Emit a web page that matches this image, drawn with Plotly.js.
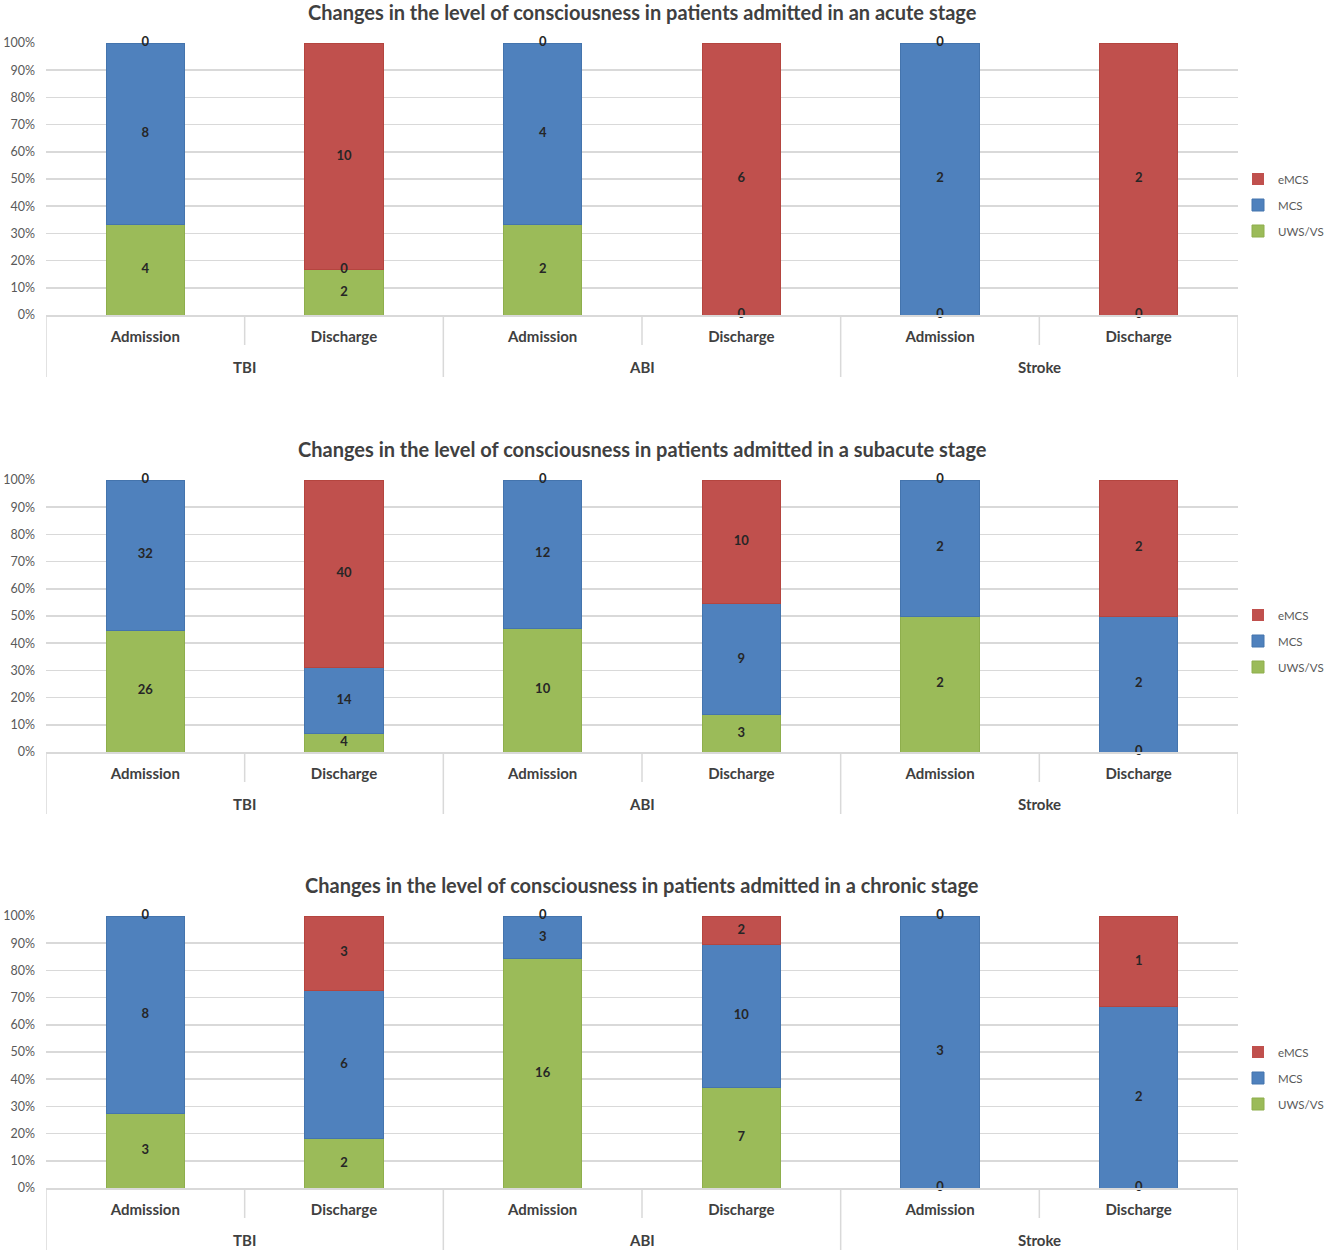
<!DOCTYPE html>
<html>
<head>
<meta charset="utf-8">
<script src="https://cdn.plot.ly/plotly-3.0.1.min.js"></script>
<style>
  html, body { margin: 0; padding: 0; background: #fff; }
  #chart { width: 1325px; height: 1254px; }
</style>
</head>
<body>
<div id="chart"></div>
<script>
const groupNames = ['TBI', 'ABI', 'Stroke']
const moments = ['Admission', 'Discharge', 'Admission', 'Discharge', 'Admission', 'Discharge']
const seriesNames = ['UWS/VS', 'MCS', 'eMCS']
const colors = ['#9BBB59', '#4F81BD', '#C0504D']
const edgeColors = ['#8eae4c', '#4474ad', '#b4453f']

const stageTitles = [
    'Changes in the level of consciousness in patients admitted in an acute stage',
    'Changes in the level of consciousness in patients admitted in a subacute stage',
    'Changes in the level of consciousness in patients admitted in a chronic stage',
]

// counts per bar, order: TBI adm, TBI dis, ABI adm, ABI dis, Stroke adm, Stroke dis
const acuteUWS = [4, 2, 2, 0, 0, 0]
const acuteMCS = [8, 0, 4, 0, 2, 0]
const acuteEMCS = [0, 10, 0, 6, 0, 2]

const subacuteUWS = [26, 4, 10, 3, 2, 0]
const subacuteMCS = [32, 14, 12, 9, 2, 2]
const subacuteEMCS = [0, 40, 0, 10, 0, 2]

const chronicUWS = [3, 2, 16, 7, 0, 0]
const chronicMCS = [8, 6, 3, 10, 3, 2]
const chronicEMCS = [0, 3, 0, 2, 0, 1]

const stages = [
    [acuteUWS, acuteMCS, acuteEMCS],
    [subacuteUWS, subacuteMCS, subacuteEMCS],
    [chronicUWS, chronicMCS, chronicEMCS],
]

const font = 'Lato, "Open Sans", sans-serif'
const H = 1254
// plot areas in pixels (top, bottom)
const areas = [[43, 315], [480, 752], [916, 1188]]
const legendMid = [205, 641, 1078]
const py = p => 1 - p / H

const xs = moments.map((m, i) => i)
let data = []
let layout = {
    width: 1325,
    height: H,
    margin: { l: 46, r: 85, t: 0, b: 0 },
    paper_bgcolor: '#fff',
    plot_bgcolor: '#fff',
    barmode: 'stack',
    barnorm: 'percent',
    showlegend: true,
    font: { family: font, color: '#595959', size: 12 },
    annotations: [],
    shapes: [],
}

const labelFont = { family: font, size: 13, color: '#262626', weight: 'bold' }

stages.forEach((series, s) => {
    const n = s + 1
    const xa = n === 1 ? 'x' : 'x' + n
    const ya = n === 1 ? 'y' : 'y' + n
    const lg = n === 1 ? 'legend' : 'legend' + n

    series.forEach((vals, k) => {
        data.push({
            type: 'bar',
            name: seriesNames[k],
            x: xs,
            y: vals,
            width: 0.395,
            xaxis: xa,
            yaxis: ya,
            legend: lg,
            legendgroup: 's' + n + k,
            legendrank: seriesNames.length - k,
            marker: {
                color: colors[k],
                line: { color: edgeColors[k], width: vals.map(v => v === 0 ? 0 : 1) },
            },
            hoverinfo: 'skip',
        })
    })

    // value labels: middle of each segment, zeros where the empty segment sits
    let lx = [], ly = [], lt = []
    xs.forEach(i => {
        const total = series.reduce((a, v) => a + v[i], 0)
        let cum = 0
        let placed = {}
        series.forEach(vals => {
            const v = vals[i]
            const y = (cum + v / 2) / total * 100
            const key = y.toFixed(2)
            if (v !== 0 || !placed[key]) {
                lx.push(i); ly.push(y); lt.push(String(v))
                placed[key] = true
            }
            cum += v
        })
    })
    data.push({
        type: 'scatter',
        mode: 'text',
        x: lx,
        y: ly,
        text: lt,
        textposition: 'middle center',
        textfont: labelFont,
        xaxis: xa,
        yaxis: ya,
        showlegend: false,
        cliponaxis: false,
        hoverinfo: 'skip',
    })

    const [top, bottom] = areas[s]
    layout['xaxis' + (n === 1 ? '' : n)] = {
        anchor: ya,
        domain: [0, 1],
        range: [-0.5, moments.length - 0.5],
        tickmode: 'array',
        tickvals: xs,
        ticktext: moments,
        showgrid: false,
        zeroline: false,
        showline: true,
        linecolor: '#d9d9d9',
        linewidth: 1.5,
        ticks: '',
        ticklabelstandoff: 7,
        tickfont: { family: font, size: 15, color: '#404040', weight: 'bold' },
        fixedrange: true,
    }
    layout['yaxis' + (n === 1 ? '' : n)] = {
        anchor: xa,
        domain: [py(bottom), py(top)],
        range: [0, 100],
        dtick: 10,
        ticksuffix: '%',
        showgrid: true,
        gridcolor: '#d9d9d9',
        gridwidth: 1.5,
        zeroline: false,
        showline: false,
        ticks: '',
        ticklabelstandoff: 10,
        tickfont: { family: font, size: 12.5, color: '#595959' },
        fixedrange: true,
    }
    layout[lg] = {
        xref: 'container',
        x: 1238 / 1325,
        xanchor: 'left',
        y: py(legendMid[s]),
        yanchor: 'middle',
        traceorder: 'grouped',
        tracegroupgap: 7,
        itemwidth: 30,
        font: { family: font, size: 11.5, color: '#595959' },
        bgcolor: 'rgba(0,0,0,0)',
        itemclick: false,
    }
    layout.annotations.push({
        text: stageTitles[s],
        xref: 'paper',
        yref: 'paper',
        x: 0.5,
        y: py(top - 31),
        xanchor: 'center',
        yanchor: 'middle',
        showarrow: false,
        font: { family: font, size: 20, color: '#404040', weight: 'bold' },
    })

    // group labels and the separators of the category axis
    groupNames.forEach((g, j) => {
        layout.annotations.push({
            text: g,
            xref: xa,
            yref: 'paper',
            x: 2 * j + 0.5,
            y: py(bottom + 52),
            xanchor: 'center',
            yanchor: 'middle',
            showarrow: false,
            font: { family: font, size: 15, color: '#404040', weight: 'bold' },
        })
    })
    for (let b = 0; b <= moments.length; b++) {
        const isGroupEdge = b % 2 === 0
        layout.shapes.push({
            type: 'line',
            xref: xa,
            yref: 'paper',
            x0: b - 0.5,
            x1: b - 0.5,
            y0: py(bottom),
            y1: py(bottom + (isGroupEdge ? 62 : 30)),
            line: { color: '#d9d9d9', width: 1.5 },
        })
    }
})

Plotly.newPlot('chart', data, layout, { displayModeBar: false, staticPlot: true })
</script>
</body>
</html>
